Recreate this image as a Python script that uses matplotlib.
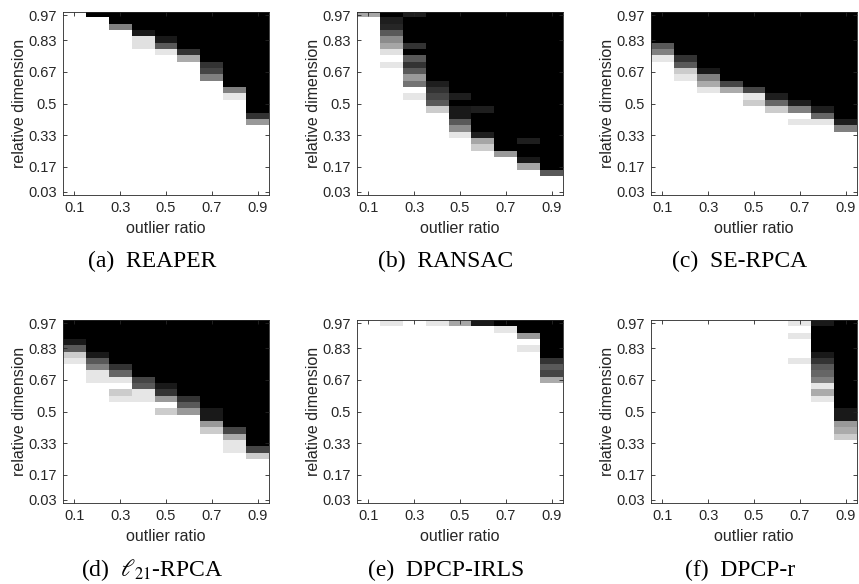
import numpy as np
import matplotlib
matplotlib.use('Agg')
import matplotlib.pyplot as plt

plt.rcParams['font.family'] = ['Liberation Sans', 'DejaVu Sans']
plt.rcParams['mathtext.fontset'] = 'stix'

# outlier ratios (columns) and relative dimensions d/D (rows), D = 30
ratios = [0.1, 0.2, 0.3, 0.4, 0.5, 0.6, 0.7, 0.8, 0.9]
dims = np.arange(1, 30)
ytick_d = [1, 5, 10, 15, 20, 25, 29]
ytick_labels = ['0.03', '0.17', '0.33', '0.5', '0.67', '0.83', '0.97']
xtick_vals = [0.1, 0.3, 0.5, 0.7, 0.9]

# success rate per column, read from the top (d=29) downwards:
# number of fully failed (black) rows, then the values of the transition rows;
# everything below is 1 (white)
reaper_black = [0, 1, 2, 3, 4, 6, 8, 12, 16]
reaper_edge = [[], [], [0.5], [0.1, 0.88, 0.88], [0.1, 0.35, 0.9], [0.2, 0.67],
               [0.2, 0.27, 0.5], [0.5, 0.9], [0.2, 0.6]]

ransac_black = [0, 1, 0, 11, 13, 15, 22, 20, 25]
ransac_edge = [[0.65],
               [0.12, 0.15, 0.35, 0.55, 0.65, 0.88, 1.0, 0.9],
               [0.12, 0.0, 0.0, 0.0, 0.0, 0.2, 0.0, 0.35, 0.2, 0.35, 0.6, 0.45, 1.0, 0.9],
               [0.12, 0.2, 0.27, 0.35, 0.8],
               [0.12, 0.0, 0.1, 0.1, 0.35, 0.55, 0.9],
               [0.12, 0.0, 0.0, 0.0, 0.12, 0.65, 0.8],
               [0.6],
               [0.12, 0.0, 0.0, 0.1, 0.65],
               [0.35]]

serpca_black = [5, 7, 9, 11, 12, 13, 14, 15, 17]
serpca_edge = [[0.35, 0.5, 0.9], [0.2, 0.35, 0.8, 0.9], [0.1, 0.5, 0.67, 0.9],
               [0.27, 0.67], [0.27, 0.9, 0.8], [0.12, 0.4, 0.8],
               [0.12, 0.5, 1.0, 0.9], [0.12, 0.4, 0.9], [0.12, 0.5]]

l21_black = [3, 5, 7, 9, 10, 12, 14, 17, 20]
l21_edge = [[0.1, 0.35, 0.8, 0.9], [0.1, 0.35, 0.5, 0.9, 0.9],
            [0.2, 0.4, 0.9, 1.0, 0.8, 0.9], [0.27, 0.35, 0.9, 0.9],
            [0.1, 0.2, 0.6, 1.0, 0.8], [0.2, 0.35, 0.6], [0.1, 0.1, 0.6, 0.8],
            [0.27, 0.67, 0.9, 0.9], [0.27, 0.8]]

irls_black = [0, 0, 0, 0, 0, 0, 1, 2, 6]
irls_edge = [[], [0.9], [], [0.9], [0.65], [0.1], [0.9], [0.6, 1.0, 0.9],
             [0.2, 0.35, 0.27, 0.67]]

dpcpr_black = [0, 0, 0, 0, 0, 0, 0, 0, 14]
dpcpr_edge = [[], [], [], [], [], [],
              [0.9, 1.0, 0.9, 1.0, 1.0, 1.0, 0.9],
              [0.1, 0.0, 0.0, 0.0, 0.0, 0.1, 0.2, 0.35, 0.4, 0.5, 0.9, 0.67, 0.9],
              [0.1, 0.1, 0.6, 0.67, 0.8]]

titles = ['(a)  REAPER', '(b)  RANSAC', '(c)  SE-RPCA',
          r'(d)  $\ell_{21}$-RPCA', '(e)  DPCP-IRLS', '(f)  DPCP-r']
methods = [(reaper_black, reaper_edge), (ransac_black, ransac_edge),
           (serpca_black, serpca_edge), (l21_black, l21_edge),
           (irls_black, irls_edge), (dpcpr_black, dpcpr_edge)]


def build(black, edge):
    M = np.ones((len(dims), len(ratios)))  # row 0 = largest dimension
    for j in range(len(ratios)):
        M[:black[j], j] = 0.0
        vals = edge[j]
        M[black[j]:black[j] + len(vals), j] = vals
    return M


W, H = 859.0, 584.0
fig = plt.figure(figsize=(W / 100, H / 100), dpi=100)
lefts = [63, 357, 651]
tops = [12, 320]
aw, ah = 206, 183
cap_y = [261, 570]
cap_shift = 14   # captions sit under the whole panel, ylabel included
ink = '#262626'

for i, (black, edge) in enumerate(methods):
    r, c = divmod(i, 3)
    ax = fig.add_axes([lefts[c] / W, 1 - (tops[r] + ah) / H, aw / W, ah / H])
    M = build(black, edge)
    ax.imshow(M, cmap='gray', vmin=0, vmax=1, interpolation='nearest', aspect='auto',
              extent=[0.05, 0.95, 0.5 / 30, 29.5 / 30], origin='upper')
    ax.set_xlim(0.05, 0.95)
    ax.set_ylim(0.5 / 30, 29.5 / 30)
    ax.set_xticks(xtick_vals)
    ax.set_xticklabels([str(v) for v in xtick_vals])
    ax.set_yticks([d / 30 for d in ytick_d])
    ax.set_yticklabels(ytick_labels)
    ax.tick_params(direction='in', length=3, width=0.6, colors=ink, labelsize=10.5,
                   top=True, right=True, pad=4.5)
    for s in ax.spines.values():
        s.set_color(ink)
        s.set_linewidth(0.6)
    ax.set_xlabel('outlier ratio', fontsize=11.5, color=ink, labelpad=4)
    ax.set_ylabel('relative dimension', fontsize=11.5, color=ink, labelpad=1)
    fig.text((lefts[c] + aw / 2 - cap_shift) / W, 1 - cap_y[r] / H, titles[i],
             ha='center', va='center', fontsize=17, family='Liberation Serif')

fig.savefig('out.png', dpi=100)
